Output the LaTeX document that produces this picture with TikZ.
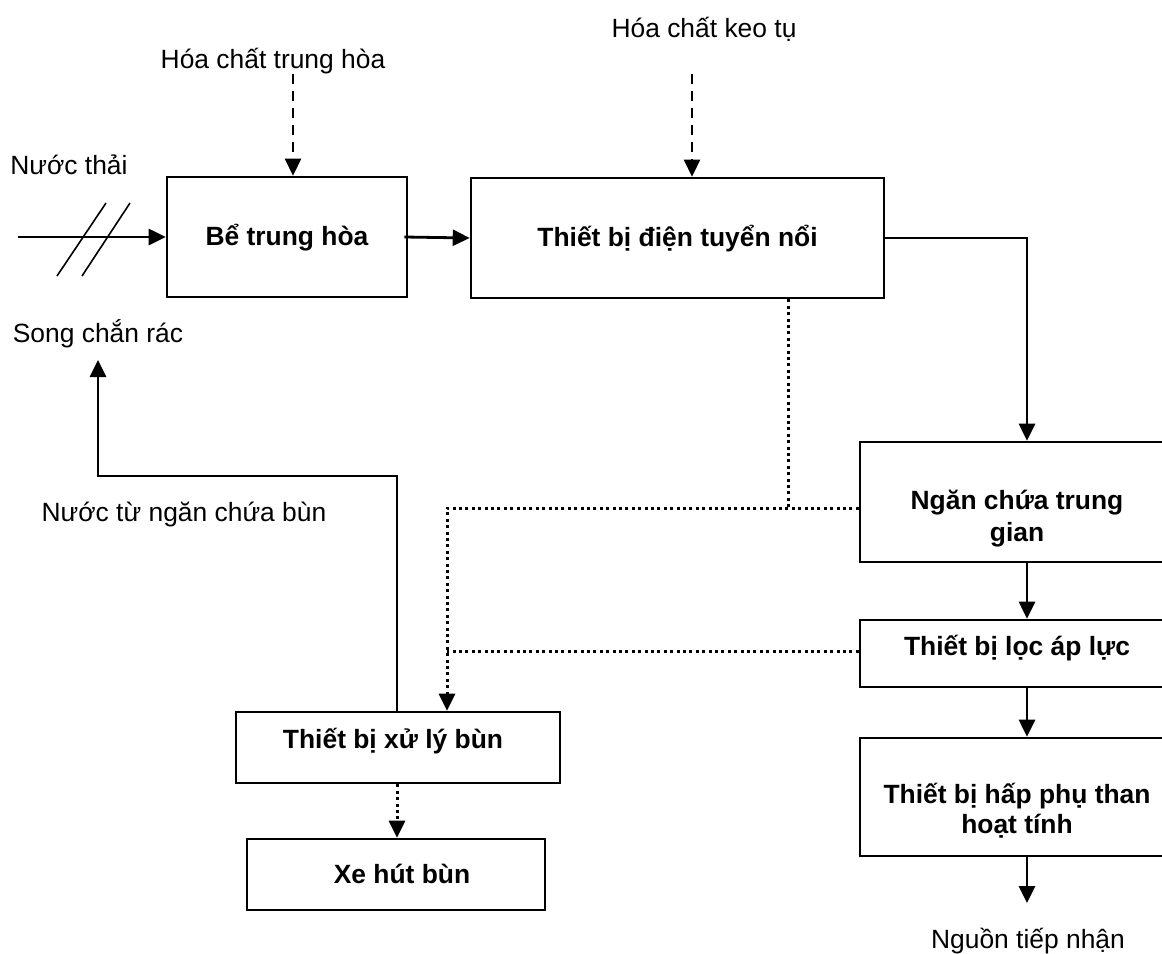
\documentclass[tikz,border=0pt]{standalone}
\usepackage{fontspec}
\setmainfont{Liberation Sans}
\usetikzlibrary{arrows.meta,calc}
\begin{document}
\begin{tikzpicture}[x=1bp,y=-1bp,
  box/.style={draw, line width=2.6bp, rectangle, inner sep=0pt},
  lbl/.style={anchor=base, inner sep=0pt, font=\fontsize{26.5}{30}\selectfont},
  blbl/.style={anchor=base, inner sep=0pt, font=\fontsize{26.5}{30}\selectfont\bfseries},
  tip/.style={-{Triangle[width=16bp,length=17bp]}},
  flow/.style={line width=2.8bp, tip},
  feed/.style={line width=2.6bp, dash pattern=on 10bp off 7bp, tip},
  sludge/.style={line width=3bp, dash pattern=on 3bp off 3.4bp},
  hatch/.style={line width=1.6bp}]
\useasboundingbox (0,0) rectangle (1162,954);
\fill[white] (0,0) rectangle (1162,954);
\clip (0,0) rectangle (1162,954);

% process units
\node[box, minimum width=240bp, minimum height=120bp] (bth) at (287,237) {};
\node[box, minimum width=413bp, minimum height=120bp] (tb)  at (677.5,238) {};
\node[box, minimum width=314bp, minimum height=120bp] (ngan) at (1017,502) {};
\node[box, minimum width=314bp, minimum height=67bp]  (loc) at (1017,653.5) {};
\node[box, minimum width=314bp, minimum height=118bp] (hap) at (1017,797) {};
\node[box, minimum width=324bp, minimum height=71bp]  (xl)  at (398,747.5) {};
\node[box, minimum width=298bp, minimum height=71bp]  (xe)  at (396,874.5) {};

% unit names
\node[blbl] (tbth)  at (287,245)  {Bể trung hòa};
\node[blbl] (ttb)   at (677.5,246) {Thiết bị điện tuyển nổi};
\node[blbl] (tng1)  at (1017,509) {Ngăn chứa trung};
\node[blbl] (tng2)  at (1017,541) {gian};
\node[blbl] (tloc)  at (1017,655) {Thiết bị lọc áp lực};
\node[blbl] (thap1) at (1017,803) {Thiết bị hấp phụ than};
\node[blbl] (thap2) at (1017,833) {hoạt tính};
\node[blbl] (txl)   at (393,748)  {Thiết bị xử lý bùn};
\node[blbl] (txe)   at (402,883)  {Xe hút bùn};

% free labels
\node[lbl] (lin)   at (69,174)   {Nước thải};
\node[lbl] (lsc)   at (98,342)   {Song chắn rác};
\node[lbl] (lch1)  at (273,68)   {Hóa chất trung hòa};
\node[lbl] (lch2)  at (704,37)   {Hóa chất keo tụ};
\node[lbl] (lret)  at (184,521)  {Nước từ ngăn chứa bùn};
\node[lbl] (lout)  at (1028,948) {Nguồn tiếp nhận};

% reference points
\coordinate (win)   at (18,237);
\coordinate (chem1) at (293,74);
\coordinate (chem2) at (692,74);
\coordinate (ret)   at (98,360);
\coordinate (rbend) at (397,476);
\coordinate (out)   at (1027,903);
\coordinate (rx)    at (1027,0);
\coordinate (sj)    at (447,508);
\coordinate (tbd)   at (788,0);
\coordinate (lj)    at (447,651);

% screen symbol on the inlet
\draw[hatch] (57,276) -- (106,203);
\draw[hatch] (82,276) -- (130,203);

% main water line
\draw[flow] (win) -- (bth.west);
\draw[flow] ([xshift=-4bp]bth.east) -- (tb.west);
\draw[flow] ([xshift=-2bp]tb.east) -| (rx |- ngan.north);
\draw[flow] (rx |- ngan.south) -- (rx |- loc.north);
\draw[flow] (rx |- loc.south) -- (rx |- hap.north);
\draw[flow] (rx |- hap.south) -- (out);

% chemical dosing
\draw[feed] (chem1) -- (chem1 |- bth.north);
\draw[feed] (chem2) -- (chem2 |- tb.north);

% water returned from sludge treatment
\draw[flow] (rbend |- xl.north) -- (rbend) -| (ret);

% sludge lines
\draw[sludge] (tbd |- tb.south) -- (tbd |- sj);
\draw[sludge, tip] (sj -| ngan.west) -- (sj) -- (sj |- xl.north);
\draw[sludge] (lj -| loc.west) -- (lj);
\draw[sludge, tip] (rbend |- xl.south) -- (rbend |- xe.north);
\end{tikzpicture}
\end{document}
